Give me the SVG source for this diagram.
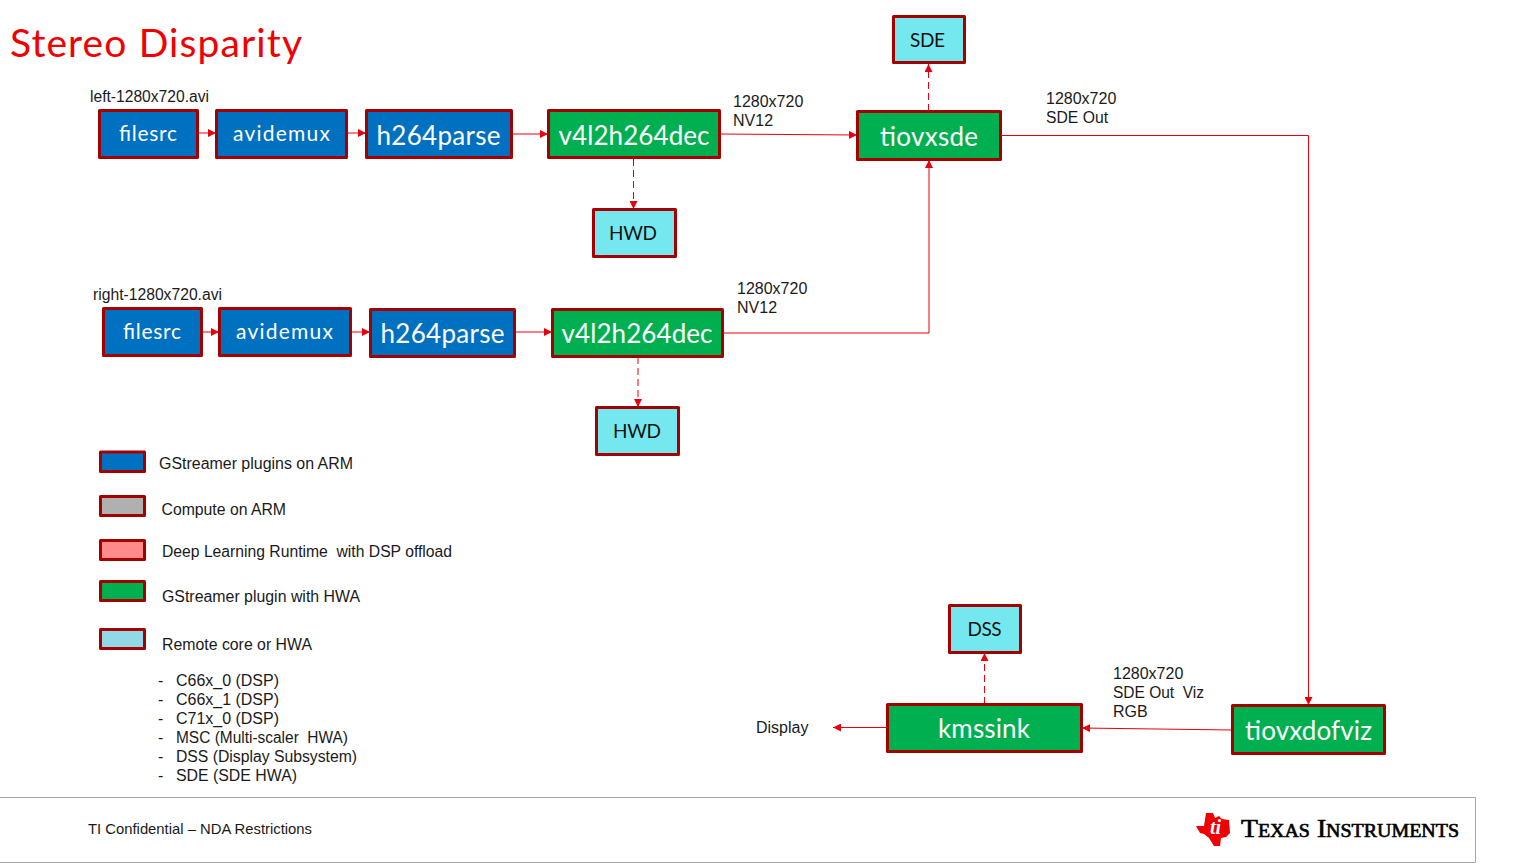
<svg xmlns="http://www.w3.org/2000/svg" width="1536" height="864" viewBox="0 0 1536 864">
<defs>
<style>
.b{stroke:#A50000;stroke-width:3;stroke-linejoin:round}
.arm{fill:#0070C0}.hwa{fill:#00B050}.core{fill:#75E8EF}
.t{font-family:Lato,"Noto Sans",sans-serif;text-anchor:middle}
.w{fill:#fff}.k{fill:#111}
.l{font-family:"Liberation Sans",Arial,sans-serif;font-size:16px;fill:#1a1a1a;white-space:pre}
.c{fill:none;stroke:#E8000D;stroke-width:1;marker-end:url(#a)}
.d{stroke-dasharray:7 4}
</style>
<marker id="a" markerUnits="userSpaceOnUse" markerWidth="9" markerHeight="8" refX="8" refY="4" orient="auto"><path d="M0 0L8 4L0 8z" fill="#E8000D"/></marker>
</defs>
<rect width="1536" height="864" fill="#fff"/>
<text x="10" y="57" font-family="Lato,'Noto Sans',sans-serif" font-size="39" fill="#F00000" textLength="292" lengthAdjust="spacing">Stereo Disparity</text>

<g id="connectors">
<path class="c" d="M198 133H216"/>
<path class="c" d="M347 133H366"/>
<path class="c" d="M512 134H548"/>
<path class="c" d="M720 134L857 135"/>
<path class="c d" d="M633.500 159V209"/>
<path class="c d" d="M928.500 111V64"/>
<path class="c" d="M1001 135.500H1308.500V705"/>
<path class="c" d="M202 332H219"/>
<path class="c" d="M351 332H370"/>
<path class="c" d="M515 332H552"/>
<path class="c" d="M723 333H929V160"/>
<path class="c d" d="M638 357V407"/>
<path class="c" d="M1232 730L1082 728"/>
<path class="c d" d="M984.500 704V653"/>
<path class="c" d="M887 727.500H833"/>
</g>

<g id="n-filesrc1"><rect class="b arm" x="99.500" y="110.500" width="98" height="47"/><text class="t w" x="148" y="141" font-size="21" textLength="58" lengthAdjust="spacing">filesrc</text></g>
<g id="n-avidemux1"><rect class="b arm" x="216.500" y="110.500" width="130" height="47"/><text class="t w" x="281.500" y="141" font-size="21" textLength="97" lengthAdjust="spacing">avidemux</text></g>
<g id="n-h264parse1"><rect class="b arm" x="366.500" y="110.500" width="145" height="47"/><text class="t w" x="438.500" y="145" font-size="26" textLength="124" lengthAdjust="spacing">h264parse</text></g>
<g id="n-dec1"><rect class="b hwa" x="548.500" y="110.500" width="171" height="47"/><text class="t w" x="634" y="145" font-size="26" textLength="151" lengthAdjust="spacing">v4l2h264dec</text></g>
<g id="n-tiovxsde"><rect class="b hwa" x="857.500" y="111.500" width="143" height="48"/><text class="t w" x="929" y="146" font-size="26" textLength="98" lengthAdjust="spacing">tiovxsde</text></g>
<g id="n-sde"><rect class="b core" x="893.500" y="16.500" width="71" height="46"/><text class="t k" x="927.500" y="47" font-size="19" textLength="35" lengthAdjust="spacing">SDE</text></g>
<g id="n-hwd1"><rect class="b core" x="593.500" y="209.500" width="82" height="47"/><text class="t k" x="633" y="240" font-size="19" textLength="48" lengthAdjust="spacing">HWD</text></g>

<g id="n-filesrc2"><rect class="b arm" x="103.500" y="308.500" width="98" height="47"/><text class="t w" x="152" y="339" font-size="21" textLength="58" lengthAdjust="spacing">filesrc</text></g>
<g id="n-avidemux2"><rect class="b arm" x="219.500" y="308.500" width="131" height="47"/><text class="t w" x="284.500" y="339" font-size="21" textLength="97" lengthAdjust="spacing">avidemux</text></g>
<g id="n-h264parse2"><rect class="b arm" x="370.500" y="309.500" width="144" height="47"/><text class="t w" x="442.500" y="343" font-size="26" textLength="124" lengthAdjust="spacing">h264parse</text></g>
<g id="n-dec2"><rect class="b hwa" x="552.500" y="309.500" width="170" height="47"/><text class="t w" x="637" y="343" font-size="26" textLength="151" lengthAdjust="spacing">v4l2h264dec</text></g>
<g id="n-hwd2"><rect class="b core" x="596.500" y="407.500" width="82" height="47"/><text class="t k" x="637" y="438" font-size="19" textLength="48" lengthAdjust="spacing">HWD</text></g>

<g id="n-dss"><rect class="b core" x="949.500" y="605.500" width="71" height="47"/><text class="t k" x="984.500" y="636" font-size="19" textLength="34" lengthAdjust="spacing">DSS</text></g>
<g id="n-kmssink"><rect class="b hwa" x="887.500" y="704.500" width="194" height="47"/><text class="t w" x="984" y="738" font-size="26" textLength="92" lengthAdjust="spacing">kmssink</text></g>
<g id="n-tiovxdofviz"><rect class="b hwa" x="1232.500" y="705.500" width="152" height="48"/><text class="t w" x="1308.500" y="740" font-size="26" textLength="127" lengthAdjust="spacing">tiovxdofviz</text></g>

<g id="labels">
<text class="l" x="90" y="102" textLength="119" lengthAdjust="spacingAndGlyphs">left-1280x720.avi</text>
<text class="l" x="93" y="300" textLength="129" lengthAdjust="spacingAndGlyphs">right-1280x720.avi</text>
<text class="l" x="733" y="107">1280x720</text><text class="l" x="733" y="126">NV12</text>
<text class="l" x="737" y="294">1280x720</text><text class="l" x="737" y="313">NV12</text>
<text class="l" x="1046" y="104">1280x720</text><text class="l" x="1046" y="123" textLength="62" lengthAdjust="spacingAndGlyphs">SDE Out</text>
<text class="l" x="1113" y="679">1280x720</text><text class="l" x="1113" y="698" textLength="91" lengthAdjust="spacingAndGlyphs">SDE Out  Viz</text><text class="l" x="1113" y="717">RGB</text>
<text class="l" x="756" y="733">Display</text>
</g>

<g id="legend">
<rect class="b arm" x="100.500" y="452" width="44" height="19.500"/><text class="l" x="159" y="469" textLength="194" lengthAdjust="spacingAndGlyphs">GStreamer plugins on ARM</text>
<rect class="b" fill="#B0B0B0" x="100.500" y="496.500" width="44" height="19"/><text class="l" x="161.500" y="515" textLength="124.500" lengthAdjust="spacingAndGlyphs">Compute on ARM</text>
<rect class="b" fill="#FF8B8B" x="100.500" y="540.500" width="44" height="19"/><text class="l" x="162" y="557" textLength="290" lengthAdjust="spacingAndGlyphs">Deep Learning Runtime  with DSP offload</text>
<rect class="b hwa" x="100.500" y="581.500" width="44" height="19"/><text class="l" x="162" y="602" textLength="198" lengthAdjust="spacingAndGlyphs">GStreamer plugin with HWA</text>
<rect class="b" fill="#92D9E8" x="100.500" y="629.500" width="44" height="19"/><text class="l" x="162" y="650" textLength="150" lengthAdjust="spacingAndGlyphs">Remote core or HWA</text>
<text class="l" x="158" y="686">-</text><text class="l" x="176" y="686" textLength="103" lengthAdjust="spacingAndGlyphs">C66x_0 (DSP)</text>
<text class="l" x="158" y="705">-</text><text class="l" x="176" y="705" textLength="103" lengthAdjust="spacingAndGlyphs">C66x_1 (DSP)</text>
<text class="l" x="158" y="724">-</text><text class="l" x="176" y="724" textLength="103" lengthAdjust="spacingAndGlyphs">C71x_0 (DSP)</text>
<text class="l" x="158" y="743">-</text><text class="l" x="176" y="743" textLength="172" lengthAdjust="spacingAndGlyphs">MSC (Multi-scaler  HWA)</text>
<text class="l" x="158" y="762">-</text><text class="l" x="176" y="762" textLength="181" lengthAdjust="spacingAndGlyphs">DSS (Display Subsystem)</text>
<text class="l" x="158" y="781">-</text><text class="l" x="176" y="781" textLength="121" lengthAdjust="spacingAndGlyphs">SDE (SDE HWA)</text>
</g>

<g id="footer">
<path d="M0 797.500H1475.500V862.500H0" fill="none" stroke="#A6A6A6" stroke-width="1"/>
<text x="88" y="834" font-family="'Liberation Sans',Arial,sans-serif" font-size="14.500" fill="#1a1a1a" textLength="224" lengthAdjust="spacingAndGlyphs">TI Confidential – NDA Restrictions</text>
<polygon points="1196,826 1204,826 1206,813 1213,813 1215,818 1219,816 1222,819 1229,820 1230,833 1226,837 1221,838 1220,846 1214,846 1209,838 1204,834 1200,833" fill="#F00000"/>
<text x="1210" y="834" font-family="'Liberation Serif',serif" font-style="italic" font-weight="bold" font-size="20" fill="#fff">ti</text>
<text x="1241" y="837" font-family="'Liberation Serif',serif" font-size="25" fill="#000" stroke="#000" stroke-width=".6" font-variant="small-caps" textLength="218" lengthAdjust="spacingAndGlyphs">Texas Instruments</text>
</g>
</svg>
